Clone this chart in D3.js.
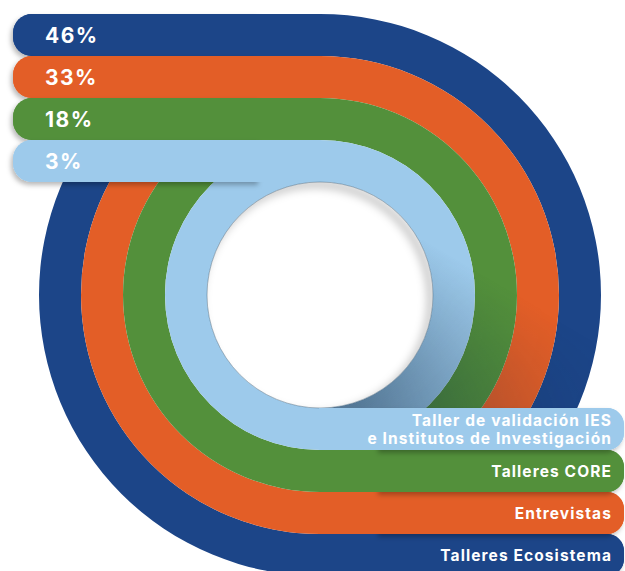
<!DOCTYPE html>
<html>
<head>
<meta charset="utf-8">
<script src="https://cdn.jsdelivr.net/npm/d3@7"></script>
<style>
  html, body { margin: 0; padding: 0; background: #fff; }
  svg { display: block; }
  text { font-family: Inter, Roboto, "Noto Sans", sans-serif; font-weight: 700; fill: #fff; }
</style>
</head>
<body>
<svg id="chart" width="625" height="571"></svg>
<script>
// outer ring first
const categories = ["Talleres Ecosistema", "Entrevistas", "Talleres CORE", "Taller de validación IES\ne Institutos de Investigación"];
const shares = [46, 33, 18, 3];
const shareLabels = ["46%", "33%", "18%", "3%"];

const width = 625, height = 571;
const cx = 320, cy = 295;
const left = 13, right = 624;

const svg = d3.select("#chart");
const defs = svg.append("defs");

const colors = d3.scaleOrdinal(categories, ["#1c4588", "#e35e27", "#53903b", "#9dcaeb"]);
const radius = d3.scaleBand().domain(categories).range([281, 113]);
const bw = radius.bandwidth();

const rows = categories.map((c, i) => ({
  cat: c,
  share: shares[i],
  label: shareLabels[i],
  inner: radius(c),
  outer: radius(c) + bw
}));
const holeR = rows[rows.length - 1].inner;
const outerR = rows[0].outer;

// bar shadow
const barShadow = defs.append("filter").attr("id", "barShadow")
  .attr("x", "-10%").attr("y", "-50%").attr("width", "120%").attr("height", "200%");
barShadow.append("feDropShadow").attr("dx", -2).attr("dy", 3)
  .attr("stdDeviation", 2.5).attr("flood-color", "#000").attr("flood-opacity", 0.28);

const soft = defs.append("filter").attr("id", "soft")
  .attr("x", "-20%").attr("y", "-20%").attr("width", "140%").attr("height", "140%");
soft.append("feGaussianBlur").attr("stdDeviation", 4);

// lower-right shading on the rings (coordinates relative to the centre)
const shade = defs.append("linearGradient").attr("id", "shade")
  .attr("gradientUnits", "userSpaceOnUse")
  .attr("x1", 130).attr("y1", -40).attr("x2", 40).attr("y2", holeR);
shade.append("stop").attr("offset", "0%").attr("stop-color", "#0b2540").attr("stop-opacity", 0);
shade.append("stop").attr("offset", "100%").attr("stop-color", "#0b2540").attr("stop-opacity", 0.5);

const falloff = defs.append("radialGradient").attr("id", "falloff")
  .attr("gradientUnits", "userSpaceOnUse")
  .attr("cx", 0).attr("cy", 0).attr("r", outerR);
falloff.append("stop").attr("offset", holeR / outerR).attr("stop-color", "#fff");
falloff.append("stop").attr("offset", 1).attr("stop-color", "#3a3a3a");
defs.append("mask").attr("id", "falloffMask")
  .attr("maskUnits", "userSpaceOnUse")
  .attr("x", -cx).attr("y", -cy).attr("width", width).attr("height", height)
  .append("rect").attr("x", -cx).attr("y", -cy)
  .attr("width", width).attr("height", height).attr("fill", "url(#falloff)");

defs.append("clipPath").attr("id", "holeClip")
  .append("circle").attr("cx", cx).attr("cy", cy).attr("r", holeR);

// rounded-end bar path
function barPath(x0, x1, y0, y1, r, roundLeft) {
  const p = d3.path();
  if (roundLeft) {
    p.moveTo(x1, y0);
    p.lineTo(x0 + r, y0);
    p.arcTo(x0, y0, x0, y0 + r, r);
    p.lineTo(x0, y1 - r);
    p.arcTo(x0, y1, x0 + r, y1, r);
    p.lineTo(x1, y1);
  } else {
    p.moveTo(x0, y0);
    p.lineTo(x1 - r, y0);
    p.arcTo(x1, y0, x1, y0 + r, r);
    p.lineTo(x1, y1 - r);
    p.arcTo(x1, y1, x1 - r, y1, r);
    p.lineTo(x0, y1);
  }
  p.closePath();
  return p.toString();
}

const g = svg.append("g");
const arc = d3.arc().startAngle(0).endAngle(2 * Math.PI);
const center = g.append("g").attr("transform", `translate(${cx},${cy})`);

// rings
center.selectAll("path.ring").data(rows).join("path")
  .attr("class", "ring")
  .attr("fill", d => colors(d.cat))
  .attr("d", d => arc.innerRadius(d.inner).outerRadius(d.outer)());

// shading over the lower-right quadrant
center.append("path")
  .attr("fill", "url(#shade)")
  .attr("mask", "url(#falloffMask)")
  .attr("d", d3.arc().innerRadius(holeR).outerRadius(outerR)
    .startAngle(Math.PI / 2 - 0.5).endAngle(Math.PI)());

// top bars: short copy casts the shadow, full bar drawn plain on top
const tops = g.selectAll("g.top").data(rows).join("g").attr("class", "top");
tops.append("path")
  .attr("fill", d => colors(d.cat))
  .attr("filter", "url(#barShadow)")
  .attr("d", d => barPath(left, cx - 60, cy - d.outer, cy - d.inner, 19, true));
tops.append("path")
  .attr("fill", d => colors(d.cat))
  .attr("d", d => barPath(left, cx + 1, cy - d.outer, cy - d.inner, 19, true));

// centre hole with a soft inner shade on its upper-right edge
g.append("circle")
  .attr("cx", cx).attr("cy", cy).attr("r", holeR)
  .attr("fill", "#fff");
g.append("g").attr("clip-path", "url(#holeClip)")
  .append("circle")
  .attr("cx", cx - 5).attr("cy", cy + 5).attr("r", holeR + 3)
  .attr("fill", "none")
  .attr("stroke", "#000").attr("stroke-opacity", 0.22).attr("stroke-width", 8)
  .attr("filter", "url(#soft)");
g.append("circle")
  .attr("cx", cx).attr("cy", cy).attr("r", holeR)
  .attr("fill", "none")
  .attr("stroke", "#4d6a80").attr("stroke-opacity", 0.7).attr("stroke-width", 0.7);

// bottom bars
const bottoms = g.selectAll("g.bottom").data(rows).join("g").attr("class", "bottom");
bottoms.append("path")
  .attr("fill", d => colors(d.cat))
  .attr("filter", "url(#barShadow)")
  .attr("d", d => barPath(cx + 60, right, cy + d.inner, cy + d.outer, 17, false));
bottoms.append("path")
  .attr("fill", d => colors(d.cat))
  .attr("d", d => barPath(cx - 1, right, cy + d.inner, cy + d.outer, 17, false));

// percent labels
g.selectAll("text.pct").data(rows).join("text")
  .attr("class", "pct")
  .attr("x", 45)
  .attr("y", d => cy - (d.outer + d.inner) / 2 + 8)
  .attr("font-size", 21)
  .attr("letter-spacing", 1.5)
  .text(d => d.label);

// category labels
const cat = g.selectAll("text.cat").data(rows).join("text")
  .attr("class", "cat")
  .attr("text-anchor", "end")
  .attr("font-size", 15.5)
  .attr("letter-spacing", 1.1)
  .attr("y", d => {
    const n = d.cat.split("\n").length;
    return cy + (d.inner + d.outer) / 2 + 6 - (n - 1) * 9;
  });
cat.selectAll("tspan").data(d => d.cat.split("\n")).join("tspan")
  .attr("x", 612)
  .attr("dy", (d, i) => i === 0 ? 0 : 18)
  .text(d => d);
</script>
</body>
</html>
